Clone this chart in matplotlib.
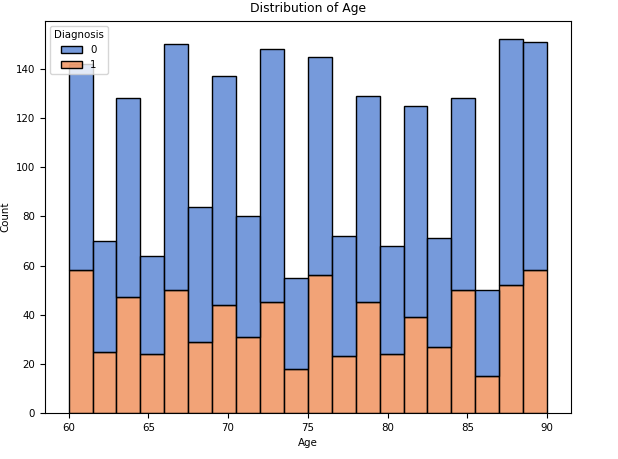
import numpy as np
import pandas as pd
import seaborn as sns
import matplotlib
matplotlib.use('Agg')
import matplotlib.pyplot as plt

# Bin layout of the age histogram (20 bins of 1.5 years)
binStart = 60
binEnd = 90
binWidth = 1.5

# Stacked totals (Diagnosis 0 on top of Diagnosis 1)
totalCounts = [142, 70, 128, 64, 150, 84, 137, 80, 148, 55,
               145, 72, 129, 68, 125, 71, 128, 50, 152, 151]
diag1Counts = [58, 25, 47, 24, 50, 29, 44, 31, 45, 18,
               56, 23, 45, 24, 39, 27, 50, 15, 52, 58]
diag0Counts = [t - d for t, d in zip(totalCounts, diag1Counts)]

binCount = len(totalCounts)
centers = binStart + binWidth * (np.arange(binCount) + 0.5)

# One row per (bin, diagnosis), weighted by its count
df = pd.DataFrame({
    'Age': np.concatenate([centers, centers]),
    'Diagnosis': [0] * binCount + [1] * binCount,
    'Count': diag0Counts + diag1Counts,
})

plt.rcParams['font.size'] = 7.4
fig = plt.figure(figsize=(6.18, 4.59), dpi=100)
ax = fig.add_axes([0.0723, 0.1002, 0.8516, 0.8548])

sns.histplot(data=df, x='Age', weights='Count', hue='Diagnosis',
             multiple='stack', binwidth=binWidth, binrange=(binStart, binEnd),
             palette='muted', edgecolor='black', ax=ax)

ax.set_title('Distribution of Age', fontsize=8.9)
ax.set_xlabel('Age')
ax.set_ylabel('Count')
sns.move_legend(ax, 'upper left')

fig.savefig('out.png', dpi=100)
